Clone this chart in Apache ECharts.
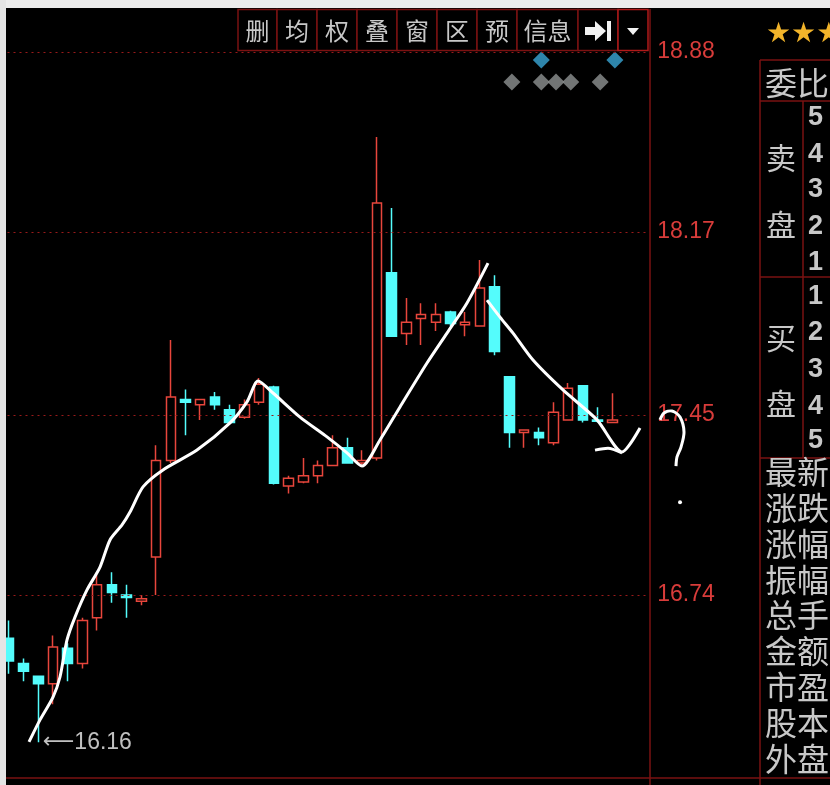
<!DOCTYPE html>
<html><head><meta charset="utf-8">
<script src="https://cdn.jsdelivr.net/npm/echarts@6/dist/echarts.min.js"></script>
<style>html,body{margin:0;padding:0;background:#000}#c{width:830px;height:785px}</style>
</head><body><div id="c"></div><script>
// ---- data ----
const categories = ['1','2','3','4','5','6','7','8','9','10','11','12','13','14','15','16','17','18','19','20','21','22',
  '23','24','25','26','27','28','29','30','31','32','33','34','35','36','37','38','39','40','41','42','43','44'];
// [open, close, low, high]
const candles = [
  [16.57,16.48,16.43,16.64],[16.47,16.44,16.40,16.49],[16.42,16.39,16.16,16.42],[16.39,16.535,16.31,16.58],
  [16.53,16.47,16.40,16.55],[16.47,16.64,16.45,16.65],[16.65,16.78,16.60,16.83],[16.78,16.75,16.71,16.83],
  [16.74,16.73,16.65,16.78],[16.715,16.725,16.70,16.74],[16.89,17.27,16.74,17.33],[17.27,17.52,17.26,17.745],
  [17.51,17.50,17.37,17.55],[17.49,17.51,17.43,17.51],[17.52,17.49,17.47,17.54],[17.47,17.42,17.42,17.49],
  [17.44,17.49,17.435,17.51],[17.50,17.57,17.49,17.595],[17.56,17.18,17.175,17.565],[17.17,17.20,17.14,17.21],
  [17.185,17.21,17.18,17.28],[17.21,17.25,17.18,17.27],[17.25,17.32,17.25,17.37],[17.32,17.26,17.26,17.36],
  [17.26,17.27,17.25,17.31],[17.28,18.285,17.27,18.545],[18.01,17.76,17.76,18.265],[17.77,17.815,17.725,17.91],
  [17.83,17.845,17.725,17.89],[17.815,17.845,17.78,17.89],[17.855,17.81,17.80,17.86],[17.805,17.815,17.76,17.855],
  [17.80,17.95,17.80,18.06],[17.955,17.70,17.685,18.00],[17.60,17.38,17.32,17.60],[17.38,17.39,17.32,17.39],
  [17.38,17.36,17.33,17.40],[17.34,17.46,17.33,17.50],[17.43,17.555,17.43,17.575],[17.565,17.43,17.42,17.565],
  [17.43,17.425,17.42,17.48],[17.42,17.43,17.42,17.535]
];
const priceTicks = [16.74, 17.45, 18.17, 18.88];
const blueMarkerIdx = [36, 41];
const greyMarkerIdx = [34, 36, 37, 38, 40];
const blueMarkerLevel = 18.848;
const greyMarkerLevel = 18.761;
// hand-drawn annotation strokes: [position in bars, price]
const strokeMain = [[1.868,16.161],[2.615,16.248],[3.499,16.338],[3.974,16.417],[4.450,16.563],[4.993,16.653],
  [5.808,16.760],[6.692,16.850],[7.371,16.957],[8.186,17.016],[8.730,17.067],[9.613,17.166],[10.971,17.233],
  [13.281,17.311],[15.523,17.418],[16.678,17.501],[17.425,17.583],[18.444,17.536],[20.279,17.441],[22.113,17.363],
  [23.472,17.300],[24.490,17.248],[25.713,17.351],[27.072,17.481],[28.906,17.654],[30.265,17.772],[31.624,17.891],
  [33.050,18.048]];
const strokeDown = [[32.982,17.902],[33.865,17.835],[34.749,17.772],[36.107,17.666],[38.145,17.548],[40.455,17.430],
  [42.154,17.304],[43.376,17.398]];
const strokeFoot = [[40.319,17.311],[41.2,17.318],[42.154,17.300]];
const strokeQuestion = [[44.735,17.430],[45.007,17.457],[45.550,17.465],[46.094,17.441],[46.365,17.382],
  [46.161,17.323],[45.889,17.284],[45.82,17.248]];
const questionDot = [46.094,17.106];
const toolbarLabels = ['删','均','权','叠','窗','区','预','信息'];
const bookSide = ['卖','盘','买','盘'];
const bookLevels = ['5','4','3','2','1','1','2','3','4','5'];
const quoteRows = ['最新','涨跌','涨幅','振幅','总手','金额','市盈','股本','外盘'];

// ---- chart ----
const RED = '#e8463c', CYAN = '#54fcfc', DARKRED = '#7a1212', TXT = '#c8c8c8';
const chart = echarts.init(document.getElementById('c'));

const graphics = [];
graphics.push({type:'rect', shape:{x:0,y:0,width:830,height:8}, style:{fill:'#ececec'}, z:100});
graphics.push({type:'rect', shape:{x:0,y:0,width:6,height:785}, style:{fill:'#e4e4e4'}, z:100});
// toolbar
const sep = [238,277,317,357,397,437,477,517,578,618,648];
for (let i = 0; i < sep.length - 1; i++) {
  graphics.push({type:'rect', shape:{x:sep[i],y:9.5,width:sep[i+1]-sep[i],height:41},
    style:{fill:'#000', stroke: i === sep.length - 2 ? '#b01a1a' : DARKRED, lineWidth:1.5}, z:50});
}
toolbarLabels.forEach((t, i) => {
  graphics.push({type:'text', x:(sep[i]+sep[i+1])/2, y:30.5,
    style:{text:t, fill:TXT, font:'24px "Noto Sans CJK SC"', align:'center', verticalAlign:'middle'}, z:51});
});
graphics.push({type:'polygon', shape:{points:[[585,27],[595,27],[595,21],[606,31],[595,41],[595,35],[585,35]]}, style:{fill:'#f2f2f2'}, z:51});
graphics.push({type:'rect', shape:{x:607,y:21,width:4,height:20}, style:{fill:'#f2f2f2'}, z:51});
graphics.push({type:'polygon', shape:{points:[[627,28],[639,28],[633,35]]}, style:{fill:'#f2f2f2'}, z:51});
// axis divider
graphics.push({type:'line', shape:{x1:650,y1:9,x2:650,y2:785}, style:{stroke:DARKRED,lineWidth:1.5}, z:50});
// right panel
graphics.push({type:'text', x:766, y:35, style:{text:'★★★', fill:'#f2b42a', font:'28px "DejaVu Sans"', verticalAlign:'middle'}, z:50});
const pl = (x1,y1,x2,y2) => graphics.push({type:'line', shape:{x1,y1,x2,y2}, style:{stroke:DARKRED,lineWidth:1.5}, z:50});
pl(760,60,830,60); pl(760,60,760,785); pl(760,101,830,101); pl(803,101,803,458);
pl(760,277,830,277); pl(760,458,830,458); pl(6,778,830,778);
graphics.push({type:'text', x:765, y:83, style:{text:'委比', fill:TXT, font:'32px "Noto Sans CJK SC"', verticalAlign:'middle'}, z:50});
const sideY = [158,225,338,404];
bookSide.forEach((t,i) => graphics.push({type:'text', x:766, y:sideY[i], style:{text:t, fill:TXT, font:'30px "Noto Sans CJK SC"', verticalAlign:'middle'}, z:50}));
const levelY = [118,155,190,227,263,297,333,370,407,441];
bookLevels.forEach((t,i) => graphics.push({type:'text', x:808, y:levelY[i], style:{text:t, fill:TXT, font:'bold 27px "Liberation Sans"', verticalAlign:'middle'}, z:50}));
quoteRows.forEach((t,i) => graphics.push({type:'text', x:765, y:472 + i*35.8, style:{text:t, fill:TXT, font:'32px "Noto Sans CJK SC"', verticalAlign:'middle'}, z:50}));

const lineStyleW = {color:'#ffffff', width:3};
const stroke = (data) => ({type:'line', xAxisIndex:1, data, symbol:'none', smooth:0.25,
  lineStyle:lineStyleW, z:10, silent:true});

chart.setOption({
  animation:false,
  backgroundColor:'#000',
  grid:{left:1.5, right:180.8, top:8, height:770},
  xAxis:[
    {type:'category', data:categories, boundaryGap:true, show:false},
    {type:'value', min:0, max:44, show:false}
  ],
  yAxis:{type:'value', position:'right', min:16.019, max:19.053, scale:true,
    axisLine:{show:false}, axisTick:{show:false}, splitLine:{show:false},
    axisLabel:{customValues:priceTicks, formatter:v => v.toFixed(2), color:'#d83c3a', fontSize:23,
      fontFamily:'Liberation Sans', margin:8}},
  graphic:graphics,
  series:[
    {type:'candlestick', data:candles, barWidth:10,
      itemStyle:{color:'#000', color0:CYAN, borderColor:RED, borderColor0:CYAN, borderWidth:1.5},
      markLine:{silent:true, symbol:['none','none'], label:{show:false},
        lineStyle:{color:'#9a1a1a', type:[2,4], width:1},
        data: priceTicks.map(v => ({yAxis:v}))},
      markPoint:{silent:true, symbol:'circle', symbolSize:1, itemStyle:{color:'rgba(0,0,0,0)'},
        data:[{type:'min', valueDim:'lowest'}],
        label:{show:true, position:'right', distance:4, offset:[0,0],
          formatter: p => '{a|\u27f5}{b|' + Number(p.value).toFixed(2) + '}',
          rich:{a:{color:'#c0c0c0', fontSize:22, fontFamily:'DejaVu Sans'},
                b:{color:'#c0c0c0', fontSize:23, fontFamily:'Liberation Sans'}}}}
    },
    {type:'scatter', data:blueMarkerIdx.map(i => [i, blueMarkerLevel]), symbol:'diamond', symbolSize:17,
      symbolOffset:[2.5,0], itemStyle:{color:'#3aa6d6'}, silent:true},
    {type:'scatter', data:greyMarkerIdx.map(i => [i, greyMarkerLevel]), symbol:'diamond', symbolSize:17,
      symbolOffset:[2.5,0], itemStyle:{color:'#8e9292'}, silent:true},
    stroke(strokeMain), stroke(strokeDown), stroke(strokeFoot)
  ]
});

// question mark annotation lies right of the plot: place it through the same scales
const toPx = pt => chart.convertToPixel({xAxisIndex:1, yAxisIndex:0}, pt);
const qPts = strokeQuestion.map(toPx);
const dot = toPx(questionDot);
chart.setOption({graphic: graphics.concat([
  {type:'polyline', shape:{points:qPts, smooth:0.3}, style:{stroke:'#fff', lineWidth:3, fill:null}, z:60},
  {type:'circle', shape:{cx:dot[0], cy:dot[1], r:2}, style:{fill:'#fff'}, z:60}
])});
</script></body></html>
